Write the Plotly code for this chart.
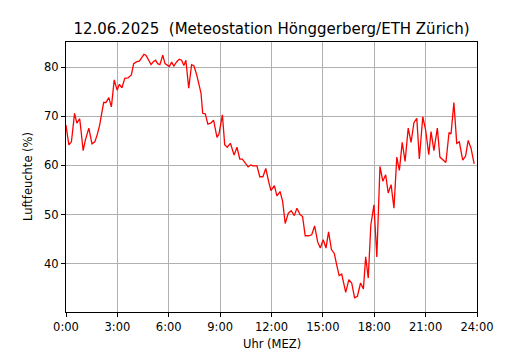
import plotly.graph_objects as go

# time of each reading (minutes after midnight) and relative humidity (%)
minutes = [0, 10, 19, 30, 38, 48, 53, 60, 68, 80, 91, 101, 109, 118, 126, 132, 140, 150, 159, 169,
           179, 187, 196, 206, 217, 229, 237, 248, 257, 265, 273, 280, 288, 298, 306, 314, 321, 329,
           339, 347, 355, 362, 370, 378, 388, 397, 405, 413, 420, 430, 440, 448, 458, 466, 473, 479,
           488, 497, 507, 517, 529, 536, 548, 556, 565, 576, 589, 599, 609, 618, 628, 638, 647, 655,
           669, 679, 690, 700, 710, 718, 730, 739, 750, 759, 768, 779, 789, 800, 809, 820, 829, 838,
           850, 861, 871, 882, 891, 901, 911, 920, 930, 940, 948, 957, 966, 980, 991, 1001, 1011, 1021,
           1032, 1042, 1050, 1059, 1068, 1079, 1089, 1100, 1110, 1120, 1129, 1139, 1149, 1159, 1168,
           1178, 1188, 1199, 1209, 1219, 1229, 1238, 1250, 1260, 1271, 1279, 1289, 1301, 1310, 1322,
           1331, 1342, 1349, 1359, 1369, 1378, 1390, 1400, 1409, 1419, 1430]
humidity = [68.2, 64.2, 64.8, 70.6, 68.6, 69.5, 66.9, 63.0, 65.2, 67.6, 64.4, 64.8, 66.2, 68.2, 70.9,
            72.8, 72.8, 73.8, 71.9, 77.4, 75.3, 76.5, 75.8, 77.7, 77.8, 78.4, 80.7, 81.1, 81.2, 81.9,
            82.6, 82.4, 81.4, 80.5, 81.1, 81.4, 80.7, 80.5, 82.4, 80.7, 80.4, 80.1, 81.0, 80.2, 81.1,
            81.6, 81.4, 80.3, 81.4, 75.7, 80.5, 80.3, 78.4, 76.7, 74.7, 70.6, 70.5, 68.4, 68.6, 69.2,
            65.7, 66.4, 70.3, 64.2, 63.7, 64.5, 62.1, 63.7, 61.3, 61.3, 60.5, 59.7, 60.1, 59.9, 59.9,
            57.7, 57.7, 59.4, 56.7, 54.9, 55.9, 53.8, 54.7, 52.7, 48.2, 50.3, 50.8, 49.8, 51.3, 50.0,
            49.6, 45.7, 45.7, 45.9, 47.7, 44.4, 43.2, 44.9, 43.2, 46.5, 42.9, 42.1, 39.9, 37.6, 37.9,
            34.2, 36.8, 36.1, 33.1, 33.4, 36.1, 34.9, 41.4, 37.1, 47.9, 52.0, 41.4, 59.8, 56.8, 58.1,
            54.4, 56.1, 51.3, 61.7, 59.0, 64.7, 60.8, 67.6, 64.7, 68.7, 69.6, 61.3, 69.9, 67.2, 62.2,
            66.9, 63.0, 67.6, 61.7, 61.1, 60.6, 66.7, 66.4, 72.8, 64.5, 64.8, 61.1, 61.9, 65.1, 63.5,
            60.3]

tick_minutes = [0, 180, 360, 540, 720, 900, 1080, 1260, 1440]
tick_labels = ["0:00", "3:00", "6:00", "9:00", "12:00", "15:00", "18:00", "21:00", "24:00"]
y_ticks = [40, 50, 60, 70, 80]

title_text = "12.06.2025  (Meteostation Hönggerberg/ETH Zürich)"
x_title = "Uhr (MEZ)"
y_title = "Luftfeuchte (%)"

W, H = 530, 350
L, R, T, B = 66, 53, 42, 38

fig = go.Figure()
fig.add_trace(go.Scatter(x=minutes, y=humidity, mode="lines",
                         line=dict(color="#ff0000", width=1.3), hoverinfo="skip"))

font = dict(family="DejaVu Sans", color="black")
axis_common = dict(showline=True, mirror=True, linecolor="black", linewidth=1,
                   ticks="outside", ticklen=4, tickwidth=1, tickcolor="black",
                   showgrid=True, gridcolor="#b0b0b0", gridwidth=1, zeroline=False,
                   automargin=False,
                   tickfont=dict(family="DejaVu Sans", size=11.5, color="black"))

fig.update_layout(
    width=W, height=H,
    margin=dict(l=L, r=R, t=T, b=B, pad=0, autoexpand=False),
    paper_bgcolor="white", plot_bgcolor="white",
    showlegend=False,
    font=font,
    title=dict(text=title_text, x=0.5, xref="paper", xanchor="center",
               y=1 - 29 / H, yref="container", yanchor="middle",
               font=dict(family="DejaVu Sans", size=15, color="black")),
    xaxis=dict(range=[0, 1440], tickvals=tick_minutes, ticktext=tick_labels, **axis_common),
    yaxis=dict(range=[30.2, 85.1], tickvals=y_ticks, **axis_common),
)

fig.add_annotation(text=x_title, xref="paper", yref="paper", x=0.5,
                   y=-(344 - (H - B)) / (H - T - B), xanchor="center", yanchor="middle",
                   showarrow=False, font=dict(family="DejaVu Sans", size=11.5, color="black"))
fig.add_annotation(text=y_title, xref="paper", yref="paper",
                   x=-(L - 28) / (W - L - R), y=0.5, xanchor="center", yanchor="middle",
                   textangle=-90, showarrow=False,
                   font=dict(family="DejaVu Sans", size=11.5, color="black"))

fig.write_html("out.html", config={"displayModeBar": False},
               post_script="document.body.style.margin='0';document.body.style.overflow='hidden';")
